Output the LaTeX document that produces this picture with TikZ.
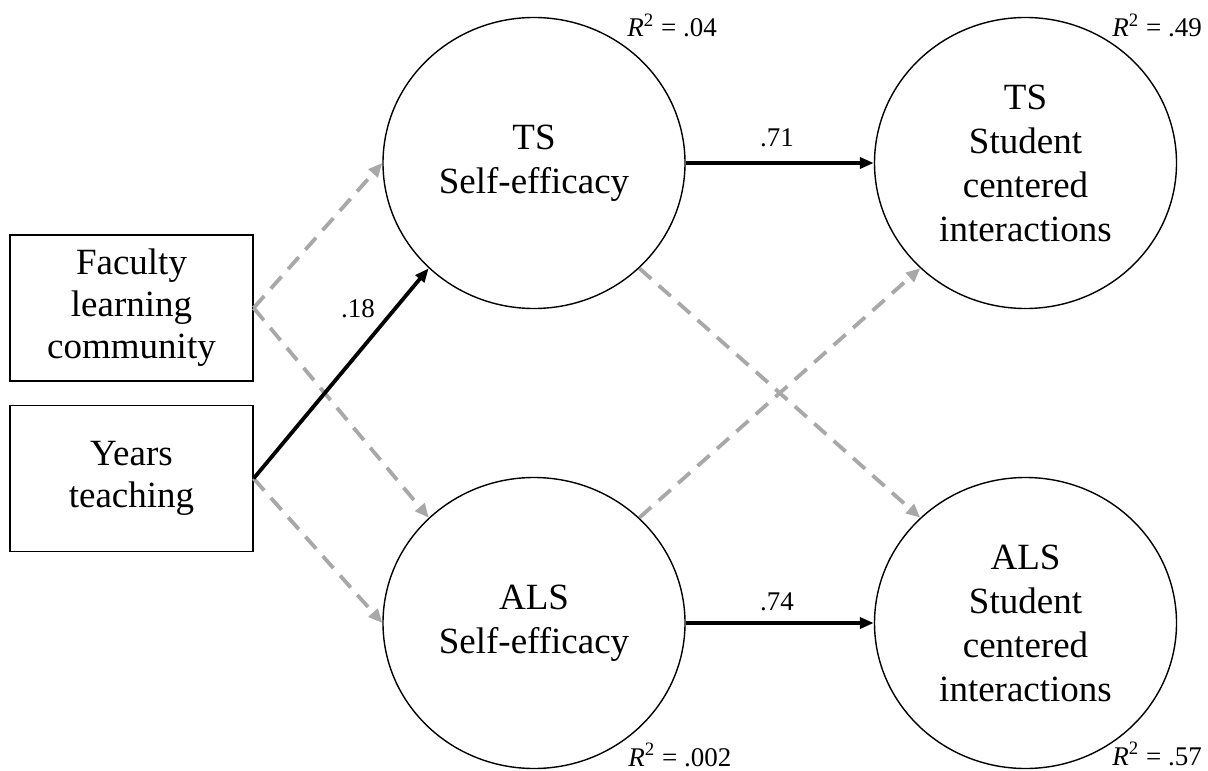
\documentclass[tikz,border=0pt]{standalone}
\usepackage{fontspec}
\setmainfont{Liberation Serif}
\usetikzlibrary{shapes.geometric,arrows.meta}
\definecolor{dashgray}{RGB}{168,168,168}
\begin{document}
\begin{tikzpicture}[x=0.5pt,y=-0.5pt,
  latent/.style={ellipse,draw,line width=0.7pt,minimum width=151pt,minimum height=145.5pt,inner sep=0pt,align=center,font=\fontsize{18.5}{22}\selectfont},
  observed/.style={rectangle,draw,line width=0.6pt,minimum width=121.5pt,minimum height=73pt,inner sep=0pt,align=center,font=\fontsize{18.5}{21}\selectfont},
  sigpath/.style={line width=1.9pt,-{Triangle[length=7pt,width=5.5pt]}},
  nspath/.style={line width=1.9pt,draw=dashgray,dash pattern=on 8pt off 5pt,-{Triangle[length=7pt,width=6pt,fill=dashgray]}},
  coef/.style={font=\fontsize{13.5}{15}\selectfont,inner sep=0pt,anchor=base},
  rsq/.style={font=\fontsize{13.5}{15}\selectfont,inner sep=0pt,anchor=base west}]
\useasboundingbox (0,0) rectangle (1208,770);
\node[observed] (fac) at (131.5,308) {Faculty\\learning\\community};
\node[observed] (yrs) at (131.5,478.5) {Years\\teaching};
\node[latent] (tsse) at (534,163) {TS\\Self-efficacy};
\node[latent] (alsse) at (534,623) {ALS\\Self-efficacy};
\node[latent] (tssci) at (1025.5,163) {TS\\Student\\centered\\interactions};
\node[latent] (alssci) at (1025.5,623) {ALS\\Student\\centered\\interactions};
\draw[nspath] (fac.east) -- (tsse.west);
\draw[nspath] (fac.east) -- (alsse.135);
\draw[nspath] (yrs.east) -- (alsse.west);
\draw[nspath] (tsse.-45) -- (alssci.135);
\draw[nspath] (alsse.45) -- (tssci.225);
\draw[sigpath] (yrs.east) -- (tsse.225);
\draw[sigpath] (tsse.east) -- (tssci.west);
\draw[sigpath] (alsse.east) -- (alssci.west);
\node[coef] (c18) at (358,317) {.18};
\node[coef] (c71) at (777,147) {.71};
\node[coef] (c74) at (777,610) {.74};
\node[rsq] (r1) at (627,37) {\textit{R}\textsuperscript{2} = .04};
\node[rsq] (r2) at (628,766) {\textit{R}\textsuperscript{2} = .002};
\node[rsq] (r3) at (1112,37) {\textit{R}\textsuperscript{2} = .49};
\node[rsq] (r4) at (1112,765) {\textit{R}\textsuperscript{2} = .57};
\end{tikzpicture}
\end{document}
